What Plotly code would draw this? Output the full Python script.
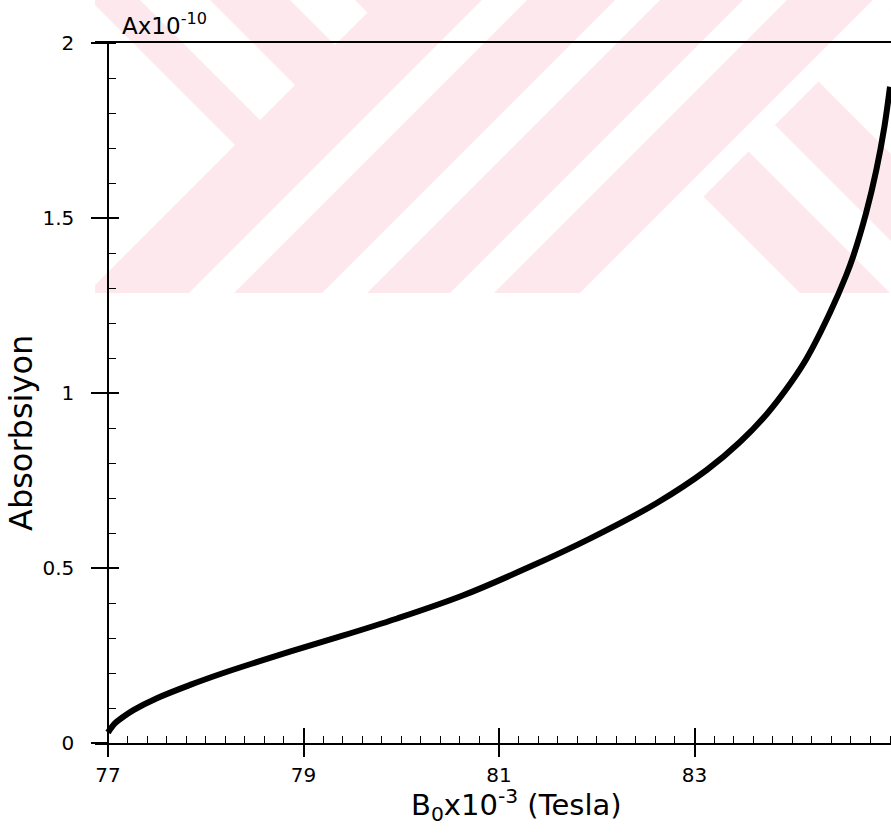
import plotly.graph_objects as go

# ---------------- data ----------------
B_field = [77.0, 77.07, 77.157, 77.26, 77.50, 77.84, 78.18, 78.52, 78.86, 79.3,
           79.95, 80.635, 81.32, 81.93, 82.61, 83.125, 83.465, 83.74, 83.98,
           84.15, 84.39, 84.55, 84.623, 84.756, 84.861, 84.944, 85.0]
absorption = [0.03, 0.056, 0.075, 0.094, 0.128, 0.166, 0.200, 0.231, 0.261, 0.298,
              0.355, 0.422, 0.504, 0.584, 0.685, 0.78, 0.86, 0.94, 1.027,
              1.10, 1.232, 1.335, 1.39, 1.515, 1.638, 1.763, 1.875]

x_tickvals = [77, 79, 81, 83]
x_ticktext = ["77", "79", "81", "83"]
y_tickvals = [0, 0.5, 1, 1.5, 2]
y_ticktext = ["0", "0.5", "1", "1.5", "2"]

# ---------------- layout geometry ----------------
W, H = 891, 835
L, R, T, Bm = 95, 0, 43, 92
PW, PH = W - L - R, H - T - Bm
FONT = "DejaVu Sans"

def px2paper(px, py):
    return (px - L) / PW, (H - Bm - py) / PH

# ---------------- watermark (light pink chevrons) ----------------
def clip(poly, a, b, c):
    out = []
    n = len(poly)
    for i in range(n):
        P, Q = poly[i], poly[(i + 1) % n]
        fp = a * P[0] + b * P[1] - c
        fq = a * Q[0] + b * Q[1] - c
        if fp <= 0:
            out.append(P)
        if fp * fq < 0:
            t = fp / (fp - fq)
            out.append((P[0] + t * (Q[0] - P[0]), P[1] + t * (Q[1] - P[1])))
    return out

INF = 1e5
rect = [(95, 0), (891, 0), (891, 293), (95, 293)]
# (umin, umax, vmin, vmax) with u = x + y, v = x - y (pixels)
white_parts = [
    (-INF, 380, -INF, 90), (-INF, 380, 140, 210), (-INF, 380, 290, 355),
    (482, 527, -INF, INF), (615, 660, -INF, INF), (743, 787, -INF, INF), (873, 900, -INF, INF),
    (900, INF, -INF, 507), (900, INF, 597, 650), (900, INF, 737, INF),
]
shapes = []
def poly_path(poly):
    pts = [px2paper(x, y) for x, y in poly]
    return "M" + "L".join(f"{a:.5f},{b:.5f}" for a, b in pts) + "Z"

shapes.append(dict(type="path", xref="paper", yref="paper", path=poly_path(rect),
                   fillcolor="#fde9ed", line=dict(width=0), layer="below"))
for umin, umax, vmin, vmax in white_parts:
    p = list(rect)
    p = clip(p, 1, 1, umax)        # u <= umax
    p = clip(p, -1, -1, -umin)     # u >= umin
    p = clip(p, 1, -1, vmax)       # v <= vmax
    p = clip(p, -1, 1, -vmin)      # v >= vmin
    if len(p) >= 3:
        shapes.append(dict(type="path", xref="paper", yref="paper", path=poly_path(p),
                           fillcolor="white", line=dict(width=0), layer="below"))

# ---------------- figure ----------------
fig = go.Figure()
fig.add_trace(go.Scatter(x=B_field, y=absorption, mode="lines",
                         line=dict(color="black", width=6, shape="spline", smoothing=1.0),
                         hoverinfo="skip", showlegend=False))
# empty trace to activate the overlay axes (inside halves of crossing ticks)
fig.add_trace(go.Scatter(x=[], y=[], xaxis="x2", yaxis="y2", showlegend=False))

xr = [77 - 13 / 97.75, 77 + (891 - 108) / 97.75]
pos_y = 13 / PW

fig.update_layout(
    width=W, height=H,
    margin=dict(l=L, r=R, t=T, b=Bm, pad=0),
    paper_bgcolor="white", plot_bgcolor="rgba(0,0,0,0)",
    font=dict(family=FONT, color="black"),
    shapes=shapes,
    xaxis=dict(range=xr, anchor="y", showline=True, linecolor="black", linewidth=1.5,
               mirror=True, ticks="outside", ticklen=12, tickwidth=1.5, tickcolor="black",
               tickvals=x_tickvals, ticktext=x_ticktext, ticklabelstandoff=1,
               tickfont=dict(size=20, family=FONT),
               minor=dict(ticks="inside", ticklen=7, tickwidth=1.2, tickcolor="black",
                          dtick=0.2, tick0=77),
               showgrid=False, zeroline=False),
    yaxis=dict(range=[0, 2], anchor="free", position=pos_y, showline=True,
               linecolor="black", linewidth=1.5, ticks="outside", ticklen=16,
               tickwidth=1.5, tickcolor="black", tickvals=y_tickvals, ticktext=y_ticktext,
               ticklabelstandoff=13, tickfont=dict(size=20, family=FONT),
               minor=dict(ticks="inside", ticklen=7, tickwidth=1.2, tickcolor="black",
                          dtick=0.1, tick0=0),
               showgrid=False, zeroline=False),
    xaxis2=dict(range=xr, overlaying="x", anchor="y2", side="bottom", ticks="inside",
                ticklen=15, tickwidth=1.5, tickcolor="black", tickvals=x_tickvals,
                showticklabels=False, showline=False, showgrid=False, zeroline=False),
    yaxis2=dict(range=[0, 2], overlaying="y", anchor="free", position=pos_y, side="left",
                ticks="inside", ticklen=10, tickwidth=1.5, tickcolor="black",
                tickvals=y_tickvals, showticklabels=False, showline=False,
                showgrid=False, zeroline=False),
)

ax_x, ax_y = px2paper(120, 24)
tx_x, tx_y = px2paper(21, 433)
bx_x, bx_y = px2paper(516, 805)
fig.add_annotation(text="Ax10<sup>-10</sup>", xref="paper", yref="paper", x=ax_x, y=ax_y,
                   xanchor="left", yanchor="middle", showarrow=False,
                   font=dict(size=23, family=FONT))
fig.add_annotation(text="Absorbsiyon", xref="paper", yref="paper", x=tx_x, y=tx_y,
                   textangle=-90, xanchor="center", yanchor="middle", showarrow=False,
                   font=dict(size=32, family=FONT))
fig.add_annotation(text="B<sub>0</sub>x10<sup>-3</sup> (Tesla)", xref="paper", yref="paper",
                   x=bx_x, y=bx_y, xanchor="center", yanchor="middle", showarrow=False,
                   font=dict(size=29, family=FONT))

fig.write_html("out.html",
               config={"displayModeBar": False},
               post_script="document.body.style.margin='0px';"
                           "document.body.style.overflow='hidden';")
